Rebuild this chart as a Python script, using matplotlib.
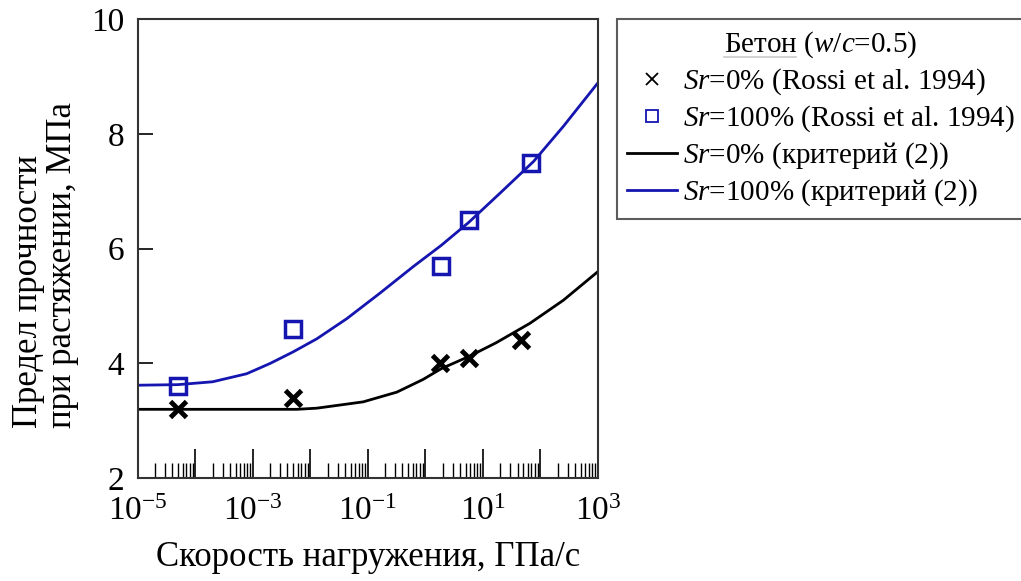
import numpy as np
import matplotlib
matplotlib.use('Agg')
import matplotlib.pyplot as plt
from matplotlib.lines import Line2D
from matplotlib.ticker import FixedLocator, LogLocator, FuncFormatter, NullFormatter

plt.rcParams['font.family'] = ['Liberation Serif', 'DejaVu Serif']
plt.rcParams['mathtext.fontset'] = 'custom'
plt.rcParams['mathtext.rm'] = 'Liberation Serif'
plt.rcParams['mathtext.it'] = 'Liberation Serif:italic'

# опытные данные (Rossi et al. 1994)
rate_sr0 = [5e-5, 5e-3, 1.8, 5.7, 46]
ft_sr0 = [3.2, 3.4, 4.0, 4.1, 4.4]
rate_sr100 = [5e-5, 5e-3, 1.9, 5.7, 70]
ft_sr100 = [3.6, 4.6, 5.7, 6.5, 7.5]

# кривые по критерию (2)
crit_rate100 = [1e-5, 5e-5, 2e-4, 7.8e-4, 2e-3, 5e-3, 1.3e-2, 4.3e-2, 0.16, 0.62,
                1.9, 5.7, 20, 76, 250, 1e3]
crit_sr100 = [3.62, 3.63, 3.68, 3.82, 4.00, 4.20, 4.43, 4.78, 5.22, 5.69,
              6.06, 6.46, 6.97, 7.52, 8.13, 8.89]
crit_rate0 = [1e-5, 1e-4, 1e-3, 5.8e-3, 1.3e-2, 8.3e-2, 0.32, 0.91, 1.9, 5.7,
              17, 66, 250, 1e3]
crit_sr0 = [3.2, 3.2, 3.2, 3.2, 3.22, 3.33, 3.50, 3.72, 3.91, 4.12,
            4.36, 4.70, 5.10, 5.60]

blue = '#1515b0'

fig = plt.figure(figsize=(10.21, 5.81), dpi=100)
ax = fig.add_axes([0.135, 0.177, 0.4506, 0.790])

ax.plot(crit_rate0, crit_sr0, color='black', lw=2, solid_joinstyle='round')
ax.plot(crit_rate100, crit_sr100, color=blue, lw=2, solid_joinstyle='round')
ax.plot(rate_sr0, ft_sr0, 'x', color='black', ms=11, mew=3.5)
ax.plot(rate_sr100, ft_sr100, 's', mfc='none', mec=blue, ms=11, mew=2.5)

ax.set_xscale('log')
ax.set_xlim(1e-5, 1e3)
ax.set_ylim(2, 10)
ax.set_yticks([2, 4, 6, 8, 10])

ax.xaxis.set_major_locator(FixedLocator([10.0 ** k for k in range(-5, 4)]))
def fmt(v, pos):
    k = int(round(np.log10(v)))
    if k % 2 == 0:
        return ''
    return r'$10^{%s}$' % (str(k).replace('-', '\u2212'))
ax.xaxis.set_major_formatter(FuncFormatter(fmt))
ax.xaxis.set_minor_locator(LogLocator(base=10, subs=np.arange(2, 10), numticks=20))
ax.xaxis.set_minor_formatter(NullFormatter())

ax.tick_params(axis='x', which='major', direction='in', length=21, width=1.2,
               labelsize=24, pad=13, top=False)
ax.tick_params(axis='x', which='minor', direction='in', length=11, width=1.0, top=False)
ax.tick_params(axis='y', which='major', direction='in', length=11, width=1.2,
               labelsize=24, pad=10, right=False)
ax.tick_params(axis='y', which='minor', left=False, right=False)
for s in ax.spines.values():
    s.set_linewidth(1.5)
    s.set_color('#333333')

ax.set_xlabel('Скорость нагружения, ГПа/с', fontsize=25, labelpad=10)
ax.set_ylabel('Предел прочности\nпри растяжении, МПа', fontsize=25,
              multialignment='left', linespacing=1.05)
ax.yaxis.set_label_coords(-0.128, 0.465)

handles = [
    Line2D([], [], ls='none', marker='x', color='black', ms=8, mew=1.3),
    Line2D([], [], ls='none', marker='s', mfc='none', mec=blue, ms=8, mew=1.3),
    Line2D([], [], color='black', lw=2),
    Line2D([], [], color=blue, lw=2),
]
labels = [
    '$Sr$=0% (Rossi et al. 1994)',
    '$Sr$=100% (Rossi et al. 1994)',
    '$Sr$=0% (критерий (2))',
    '$Sr$=100% (критерий (2))',
]
leg = fig.legend(handles, labels, loc='upper left', bbox_to_anchor=(0.6043, 0.967),
                 fontsize=21, title='Бетон ($w/c$=0.5)', title_fontsize=21,
                 frameon=True, fancybox=False, edgecolor='#333333',
                 handlelength=1.7, handletextpad=0.2, labelspacing=0.22,
                 borderpad=0.35, borderaxespad=0)
leg.get_frame().set_linewidth(1.5)

# подчёркивание слова «Бетон» в заголовке легенды
fig.canvas.draw()
r = fig.canvas.get_renderer()
tb = leg.get_title().get_window_extent(r)
tmp = fig.text(0, 0, 'Бетон', fontsize=21)
wb = tmp.get_window_extent(r).width
tmp.remove()
W, H = fig.bbox.width, fig.bbox.height
y0 = (tb.y0 + 3) / H
fig.add_artist(Line2D([tb.x0 / W, (tb.x0 + wb) / W], [y0, y0], color='black', lw=1.2))

fig.savefig('out.png', dpi=100)
